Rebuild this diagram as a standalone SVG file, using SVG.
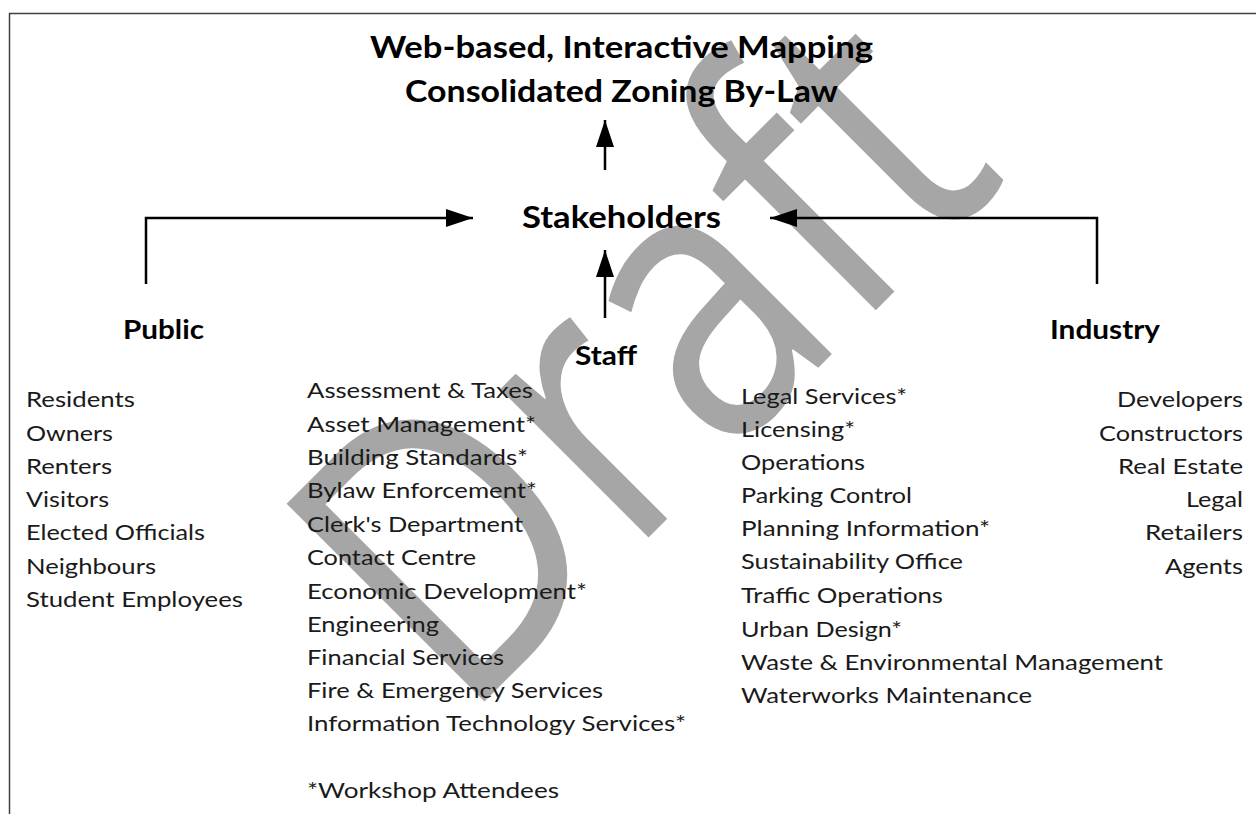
<svg xmlns="http://www.w3.org/2000/svg" width="1256" height="814" viewBox="0 0 1256 814">
<defs>
<style>
.t{font-family:Lato,"Open Sans","Liberation Sans",sans-serif;font-size:20.5px;fill:#1a1a1a}
.h{font-family:Lato,"Open Sans","Liberation Sans",sans-serif;font-weight:bold;fill:#000}
.wm{font-family:"Open Sans","Liberation Sans",sans-serif;font-size:392px;fill:#a6a6a6}
.c{fill:none;stroke:#000;stroke-width:2.5}
</style>
<marker id="ah" markerUnits="userSpaceOnUse" markerWidth="28" markerHeight="20" refX="27" refY="10" orient="auto">
<path d="M0,1 L27,10 L0,19 Z" fill="#000"/>
</marker>
</defs>
<rect width="1256" height="814" fill="#fff"/>
<text class="wm" transform="translate(462,724) rotate(-45)" textLength="775" lengthAdjust="spacingAndGlyphs">Draft</text>
<path d="M9.5,814 V13.5 H1256" fill="none" stroke="#404040" stroke-width="1.5"/>
<g id="connectors">
<line class="c" x1="605" y1="170" x2="605" y2="120" marker-end="url(#ah)"/>
<line class="c" x1="605" y1="318" x2="605" y2="250" marker-end="url(#ah)"/>
<path class="c" d="M146,284 V218 H473" marker-end="url(#ah)"/>
<path class="c" d="M1097,284 V218 H770" marker-end="url(#ah)"/>
</g>
<g id="title">
<text class="h" x="370" y="58" font-size="31" textLength="503" lengthAdjust="spacingAndGlyphs">Web-based, Interactive Mapping</text>
<text class="h" x="405" y="102" font-size="31" textLength="433" lengthAdjust="spacingAndGlyphs">Consolidated Zoning By-Law</text>
</g>
<g id="stakeholders">
<text class="h" x="522" y="228" font-size="30" textLength="199" lengthAdjust="spacingAndGlyphs">Stakeholders</text>
</g>
<g id="public">
<text class="h" x="123" y="339" font-size="27" textLength="81" lengthAdjust="spacingAndGlyphs">Public</text>
<text class="t" x="26" y="407" textLength="109" lengthAdjust="spacingAndGlyphs">Residents</text>
<text class="t" x="26" y="441" textLength="87" lengthAdjust="spacingAndGlyphs">Owners</text>
<text class="t" x="26" y="474" textLength="86" lengthAdjust="spacingAndGlyphs">Renters</text>
<text class="t" x="26" y="507" textLength="83" lengthAdjust="spacingAndGlyphs">Visitors</text>
<text class="t" x="26" y="540" textLength="179" lengthAdjust="spacingAndGlyphs">Elected Officials</text>
<text class="t" x="26" y="574" textLength="130" lengthAdjust="spacingAndGlyphs">Neighbours</text>
<text class="t" x="26" y="607" textLength="217" lengthAdjust="spacingAndGlyphs">Student Employees</text>
</g>
<g id="staff">
<text class="h" x="575" y="365" font-size="27" textLength="62" lengthAdjust="spacingAndGlyphs">Staff</text>
<text class="t" x="307" y="398" textLength="226" lengthAdjust="spacingAndGlyphs">Assessment &amp; Taxes</text>
<text class="t" x="307" y="432" textLength="229" lengthAdjust="spacingAndGlyphs">Asset Management*</text>
<text class="t" x="307" y="465" textLength="221" lengthAdjust="spacingAndGlyphs">Building Standards*</text>
<text class="t" x="307" y="498" textLength="230" lengthAdjust="spacingAndGlyphs">Bylaw Enforcement*</text>
<text class="t" x="307" y="532" textLength="216" lengthAdjust="spacingAndGlyphs">Clerk's Department</text>
<text class="t" x="307" y="565" textLength="169" lengthAdjust="spacingAndGlyphs">Contact Centre</text>
<text class="t" x="307" y="599" textLength="280" lengthAdjust="spacingAndGlyphs">Economic Development*</text>
<text class="t" x="307" y="632" textLength="132" lengthAdjust="spacingAndGlyphs">Engineering</text>
<text class="t" x="307" y="665" textLength="197" lengthAdjust="spacingAndGlyphs">Financial Services</text>
<text class="t" x="307" y="698" textLength="296" lengthAdjust="spacingAndGlyphs">Fire &amp; Emergency Services</text>
<text class="t" x="307" y="731" textLength="379" lengthAdjust="spacingAndGlyphs">Information Technology Services*</text>
<text class="t" x="307" y="798" textLength="252" lengthAdjust="spacingAndGlyphs">*Workshop Attendees</text>
<text class="t" x="741" y="404" textLength="166" lengthAdjust="spacingAndGlyphs">Legal Services*</text>
<text class="t" x="741" y="437" textLength="114" lengthAdjust="spacingAndGlyphs">Licensing*</text>
<text class="t" x="741" y="470" textLength="124" lengthAdjust="spacingAndGlyphs">Operations</text>
<text class="t" x="741" y="503" textLength="171" lengthAdjust="spacingAndGlyphs">Parking Control</text>
<text class="t" x="741" y="536" textLength="249" lengthAdjust="spacingAndGlyphs">Planning Information*</text>
<text class="t" x="741" y="569" textLength="222" lengthAdjust="spacingAndGlyphs">Sustainability Office</text>
<text class="t" x="741" y="603" textLength="202" lengthAdjust="spacingAndGlyphs">Traffic Operations</text>
<text class="t" x="741" y="637" textLength="161" lengthAdjust="spacingAndGlyphs">Urban Design*</text>
<text class="t" x="741" y="670" textLength="422" lengthAdjust="spacingAndGlyphs">Waste &amp; Environmental Management</text>
<text class="t" x="741" y="703" textLength="291" lengthAdjust="spacingAndGlyphs">Waterworks Maintenance</text>
</g>
<g id="industry">
<text class="h" x="1050" y="339" font-size="27" textLength="110" lengthAdjust="spacingAndGlyphs">Industry</text>
<text class="t" x="1117" y="407" textLength="126" lengthAdjust="spacingAndGlyphs">Developers</text>
<text class="t" x="1099" y="441" textLength="144" lengthAdjust="spacingAndGlyphs">Constructors</text>
<text class="t" x="1118" y="474" textLength="125" lengthAdjust="spacingAndGlyphs">Real Estate</text>
<text class="t" x="1186" y="507" textLength="57" lengthAdjust="spacingAndGlyphs">Legal</text>
<text class="t" x="1145" y="540" textLength="98" lengthAdjust="spacingAndGlyphs">Retailers</text>
<text class="t" x="1165" y="574" textLength="78" lengthAdjust="spacingAndGlyphs">Agents</text>
</g>
</svg>
